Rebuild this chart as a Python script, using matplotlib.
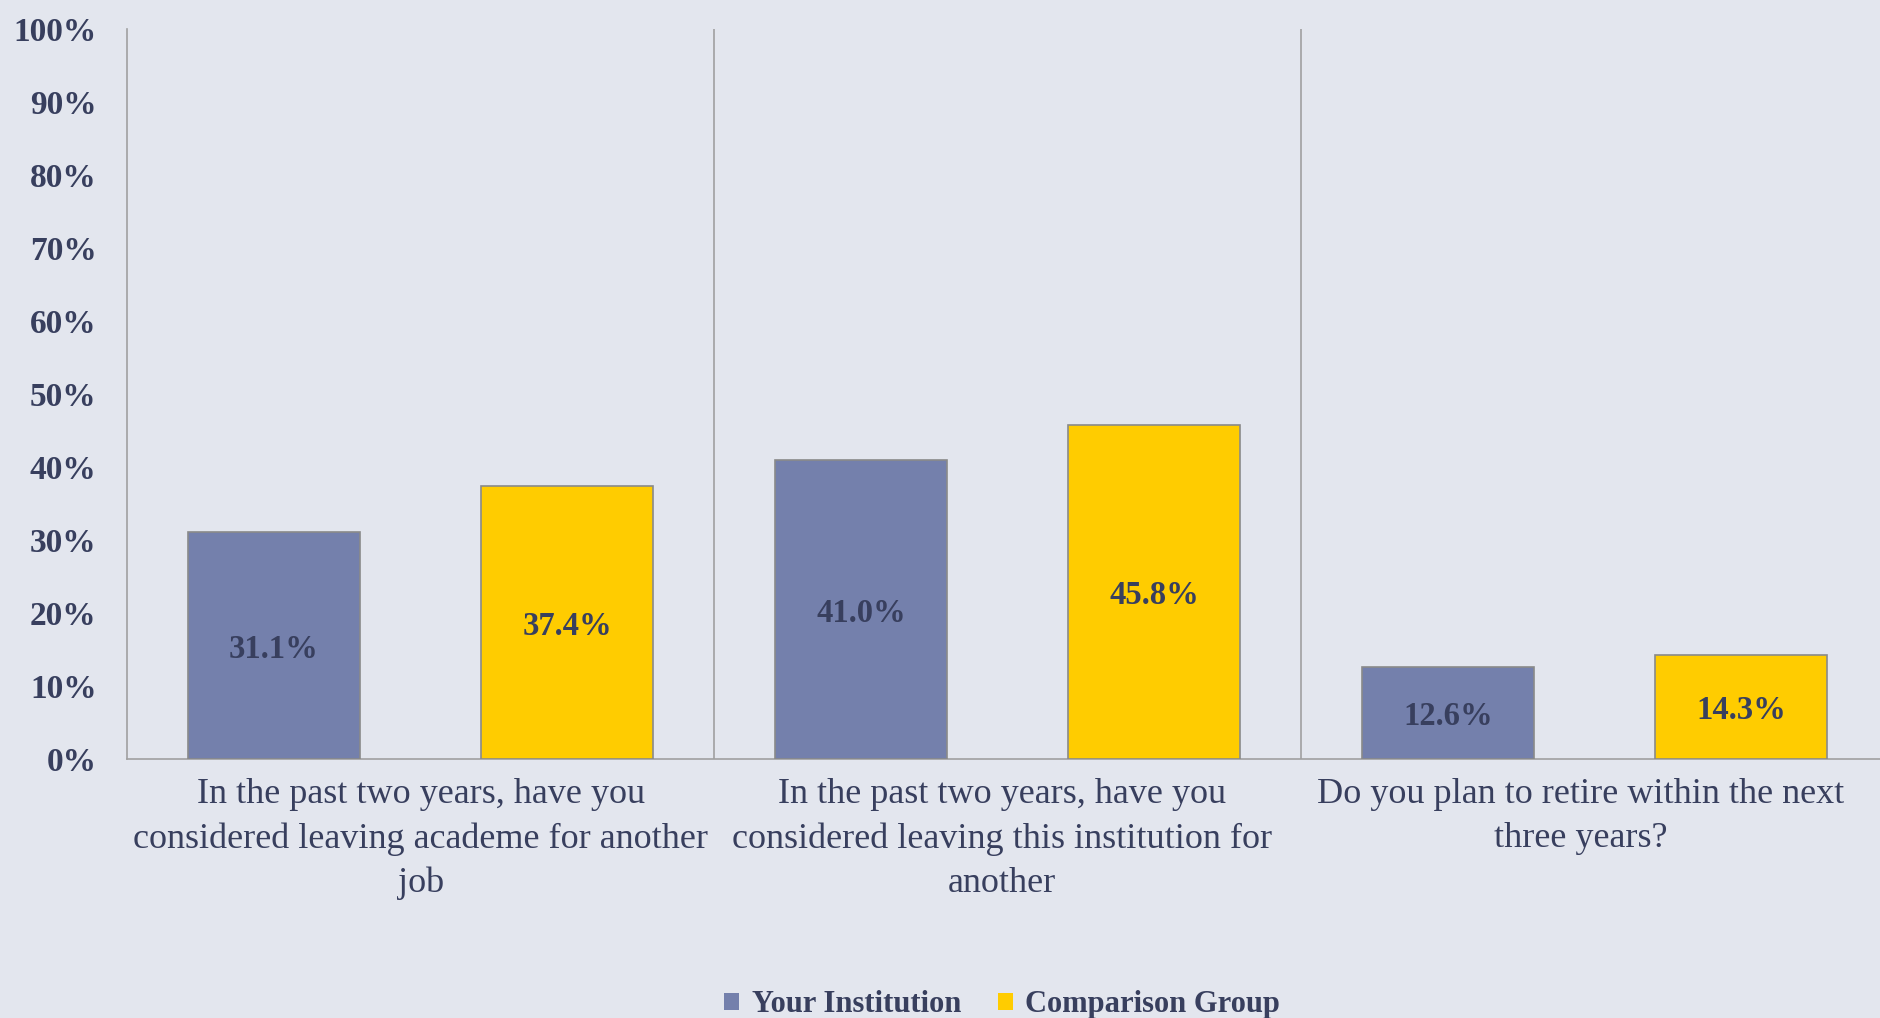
import numpy as np
import matplotlib.pyplot as plt
import matplotlib.transforms as mtransforms
from matplotlib.patches import Patch

questions = [
    "In the past two years, have you\nconsidered leaving academe for another\njob",
    "In the past two years, have you\nconsidered leaving this institution for\nanother",
    "Do you plan to retire within the next\nthree years?",
]
series_names = ["Your Institution", "Comparison Group"]
your_inst = [31.1, 41.0, 12.6]
comparison = [37.4, 45.8, 14.3]
yticks = [0, 10, 20, 30, 40, 50, 60, 70, 80, 90, 100]

BG = "#E3E6EE"
TXT = "#383F5E"
BLUE = "#7480AC"
GOLD = "#FFCC00"
GRID = "#A0A0A0"

plt.rcParams['font.family'] = ['Liberation Serif', 'DejaVu Serif']

fig = plt.figure(figsize=(18.8, 10.18), dpi=100, facecolor=BG)
ax = fig.add_axes([0.0676, 0.2544, 0.9367, 0.7171], facecolor=BG)

x = np.arange(len(questions))
w = 0.293
b1 = ax.bar(x - 0.25, your_inst, w, color=BLUE, edgecolor="#8A8A8A",
            linewidth=1.2, label=series_names[0], zorder=3)
b2 = ax.bar(x + 0.25, comparison, w, color=GOLD, edgecolor="#8A8A8A",
            linewidth=1.2, label=series_names[1], zorder=3)

for bars, vals in ((b1, your_inst), (b2, comparison)):
    for rect, v in zip(bars, vals):
        ax.text(rect.get_x() + rect.get_width() / 2, v / 2 - 0.5,
                "{0:.1f}%".format(v), ha="center", va="center",
                fontsize=23.5, fontweight="bold", color=TXT, zorder=4)

ax.set_xlim(-0.5, 2.5)
ax.set_ylim(0, 100)
ax.set_yticks(yticks)
ax.set_yticklabels(["{0}%".format(t) for t in yticks], fontsize=24,
                   fontweight="bold", color=TXT)
ax.set_xticks(x)
ax.set_xticklabels(questions, fontsize=26, color=TXT, linespacing=1.43)
ax.tick_params(axis="y", length=0, pad=22)
ax.tick_params(axis="x", length=0, pad=14)

# nudge labels a little to the left like the original
for lbl, dx in zip(ax.get_xticklabels(), [0, -6, -14]):
    off = mtransforms.ScaledTranslation(dx / 100.0, 0, fig.dpi_scale_trans)
    lbl.set_transform(lbl.get_transform() + off)

for s in ("top", "right"):
    ax.spines[s].set_visible(False)
ax.spines["left"].set_color(GRID)
ax.spines["bottom"].set_color(GRID)
ax.spines["left"].set_linewidth(1.2)
ax.spines["bottom"].set_linewidth(1.2)
for xv in (0.5, 1.5):
    ax.axvline(xv, color=GRID, linewidth=1.2, zorder=1)

handles = [Patch(facecolor=BLUE, edgecolor="none", label=series_names[0]),
           Patch(facecolor=GOLD, edgecolor="none", label=series_names[1])]
leg = fig.legend(handles=handles, loc="center", bbox_to_anchor=(0.533, 0.013),
                 ncol=2, frameon=False, handlelength=0.5, handleheight=0.5,
                 handletextpad=0.4, columnspacing=1.2,
                 prop={"weight": "bold", "size": 22})
for t in leg.get_texts():
    t.set_color(TXT)

fig.savefig("out.png", dpi=100, facecolor=BG)
